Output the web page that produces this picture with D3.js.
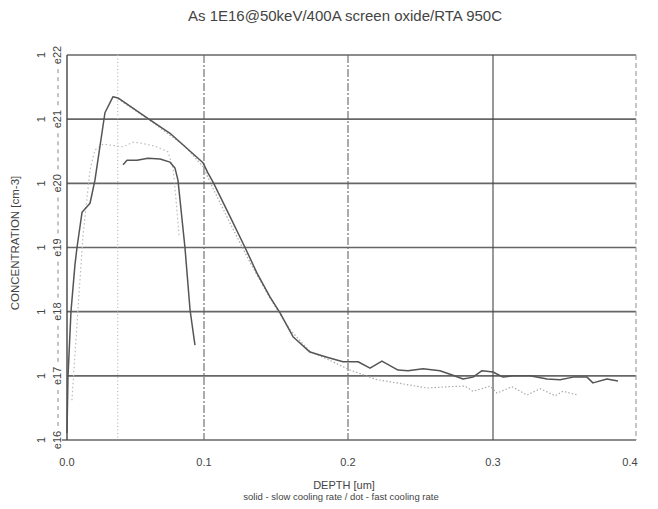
<!DOCTYPE html>
<html>
<head>
<meta charset="utf-8">
<script src="https://cdn.jsdelivr.net/npm/d3@7"></script>
<style>
  body { margin: 0; background: #fff; }
  text { font-family: "Liberation Sans", Arial, sans-serif; fill: #444; }
</style>
</head>
<body>
<div id="chart"></div>
<script>
// values: depth in um, concentration as log10(cm-3)
const slowDepth = [0, 0.0007, 0.0029, 0.0058, 0.0073, 0.011, 0.0168, 0.0204, 0.0277, 0.0336, 0.0372, 0.0606, 0.0752,
  0.0993, 0.1028, 0.1063, 0.1181, 0.1285, 0.1368, 0.1458, 0.1528, 0.1618, 0.1736, 0.1854, 0.1965, 0.2069, 0.2152,
  0.2234, 0.2345, 0.2414, 0.2517, 0.2634, 0.2724, 0.2793, 0.2862, 0.2924, 0.3, 0.307, 0.314, 0.3259, 0.3378, 0.3469,
  0.356, 0.3657, 0.3699, 0.3797, 0.3874];
const slowLog = [16.11, 16.98, 18.0, 18.73, 19.0, 19.55, 19.69, 20.05, 21.10, 21.35, 21.33, 20.99, 20.78,
  20.32, 20.16, 20.02, 19.48, 19.0, 18.60, 18.23, 17.98, 17.61, 17.37, 17.29, 17.22, 17.22, 17.12,
  17.23, 17.09, 17.08, 17.11, 17.08, 17.01, 16.95, 16.98, 17.08, 17.06, 16.98, 17.0, 17.0, 16.95, 16.94,
  16.98, 16.98, 16.89, 16.95, 16.92];

const slowInnerDepth = [0.0409, 0.0438, 0.0511, 0.0591, 0.0679, 0.0752, 0.0788, 0.081, 0.0825, 0.0861, 0.0898, 0.0934];
const slowInnerLog = [20.29, 20.36, 20.36, 20.39, 20.38, 20.33, 20.24, 20.05, 19.74, 19.0, 18.03, 17.48];

const fastDepth = [0.0372, 0.0606, 0.0861, 0.0993, 0.1063, 0.1181, 0.1319, 0.1458, 0.1597, 0.1736, 0.1875, 0.2014,
  0.2200, 0.2338, 0.2545, 0.2683, 0.2807, 0.2862, 0.298, 0.3028, 0.3133, 0.3238, 0.3329, 0.3434, 0.3490, 0.3594];
const fastLog = [21.32, 20.98, 20.58, 20.26, 19.92, 19.38, 18.77, 18.21, 17.72, 17.38, 17.24, 17.09,
  16.94, 16.89, 16.81, 16.83, 16.84, 16.76, 16.84, 16.73, 16.83, 16.70, 16.80, 16.69, 16.76, 16.70];

const fastInnerDepth = [0.0036, 0.008, 0.0117, 0.0168, 0.0204, 0.0263, 0.0409, 0.0482, 0.0533, 0.0642, 0.0737, 0.0774, 0.0796, 0.0818];
const fastInnerLog = [16.62, 18.03, 19.19, 20.21, 20.52, 20.61, 20.57, 20.64, 20.63, 20.58, 20.49, 20.24, 19.74, 19.19];

const xTicks = [0, 0.1, 0.2, 0.3, 0.4];
const xTickLabels = ["0.0", "0.1", "0.2", "0.3", "0.4"];
const yExps = [16, 17, 18, 19, 20, 21, 22];
const oxideEdge = 0.037;

const W = 658, H = 509;
const svg = d3.select("#chart").append("svg")
  .attr("width", W).attr("height", H);

// the scanned axis is not quite even, so the x scale is piecewise
const x = d3.scaleLinear().domain(xTicks).range([67, 204, 348, 493, 636]);
const y = d3.scaleLog().domain([1e16, 1e22]).range([440, 55]);

// horizontal grid, one per decade
svg.append("g").selectAll("line")
  .data(yExps)
  .join("line")
  .attr("x1", d => d === 16 ? 62 : x(0))
  .attr("x2", x(0.4))
  .attr("y1", d => y(Math.pow(10, d)))
  .attr("y2", d => y(Math.pow(10, d)))
  .attr("stroke", "#666")
  .attr("stroke-width", 1.6);

// vertical grid
const vStyle = {
  0: {c: "#444", w: 1.4, dash: null},
  0.1: {c: "#666", w: 1.1, dash: "8,2,2,2"},
  0.2: {c: "#666", w: 1.1, dash: "8,2,2,2"},
  0.3: {c: "#444", w: 1.1, dash: null},
  0.4: {c: "#999", w: 1.1, dash: "5,3"}
};
svg.append("g").selectAll("line")
  .data(xTicks)
  .join("line")
  .attr("x1", d => x(d)).attr("x2", d => x(d))
  .attr("y1", y(1e22)).attr("y2", y(1e16))
  .attr("stroke", d => vStyle[d].c)
  .attr("stroke-width", d => vStyle[d].w)
  .attr("stroke-dasharray", d => vStyle[d].dash);

// oxide / silicon interface marker
svg.append("line")
  .attr("x1", x(oxideEdge)).attr("x2", x(oxideEdge))
  .attr("y1", y(1e22)).attr("y2", y(1e16))
  .attr("stroke", "#bbb")
  .attr("stroke-width", 1.2)
  .attr("stroke-dasharray", "1,2.5");

// y labels: "1" and "eNN" rotated
const yl = svg.append("g");
yExps.forEach(e => {
  const yy = y(Math.pow(10, e));
  yl.append("text")
    .attr("transform", `translate(45,${yy}) rotate(-90)`)
    .attr("text-anchor", "middle")
    .style("font-size", "11px")
    .text("1");
  yl.append("text")
    .attr("transform", `translate(61,${yy}) rotate(-90)`)
    .attr("text-anchor", "middle")
    .style("font-size", "11px")
    .text("e" + e);
});
// dashed rule between the exponent labels
svg.append("g").selectAll("line")
  .data(yExps.slice(0, -1))
  .join("line")
  .attr("x1", 58).attr("x2", 58)
  .attr("y1", d => y(Math.pow(10, d)) - 14)
  .attr("y2", d => y(Math.pow(10, d + 1)) + 14)
  .attr("stroke", "#888")
  .attr("stroke-width", 1)
  .attr("stroke-dasharray", "4,4");

// x labels
svg.append("g").selectAll("text")
  .data(xTicks)
  .join("text")
  .attr("x", (d, i) => i === 4 ? x(d) - 6 : x(d))
  .attr("y", 466)
  .attr("text-anchor", "middle")
  .style("font-size", "11px")
  .text((d, i) => xTickLabels[i]);

const line = d3.line()
  .x(d => x(d[0]))
  .y(d => y(Math.pow(10, d[1])));

function curve(depth, logs, color, width, dash) {
  svg.append("path")
    .datum(depth.map((d, i) => [d, logs[i]]))
    .attr("d", line)
    .attr("fill", "none")
    .attr("stroke", color)
    .attr("stroke-width", width)
    .attr("stroke-dasharray", dash)
    .attr("stroke-linejoin", "round");
}

curve(fastDepth, fastLog, "#aaa", 1.2, "1.5,2");
curve(fastInnerDepth, fastInnerLog, "#bbb", 1.2, "1.5,2.5");
curve(slowDepth, slowLog, "#555", 1.5, null);
curve(slowInnerDepth, slowInnerLog, "#555", 1.5, null);

// titles
svg.append("text")
  .attr("x", 345).attr("y", 21)
  .attr("text-anchor", "middle")
  .style("font-size", "15px")
  .text("As 1E16@50keV/400A screen oxide/RTA 950C");

svg.append("text")
  .attr("transform", "translate(19,243) rotate(-90)")
  .attr("text-anchor", "middle")
  .style("font-size", "11.5px")
  .text("CONCENTRATION [cm-3]");

svg.append("text")
  .attr("x", 344).attr("y", 489)
  .attr("text-anchor", "middle")
  .style("font-size", "11px")
  .text("DEPTH [um]");

svg.append("text")
  .attr("x", 341).attr("y", 500)
  .attr("text-anchor", "middle")
  .style("font-size", "9.5px")
  .text("solid - slow cooling rate / dot - fast cooling rate");
</script>
</body>
</html>
